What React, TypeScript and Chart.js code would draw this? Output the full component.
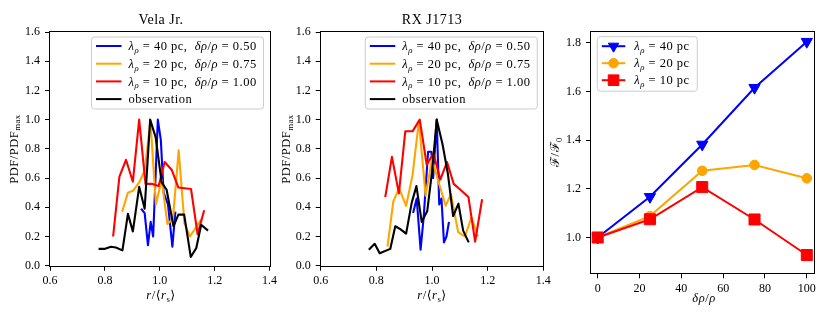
import React, { useEffect, useRef } from "react";
import { Chart, registerables } from "chart.js";

Chart.register(...registerables);

// ---------------- data ----------------
// Vela Jr. panel
const velaBlueX = [0.932, 0.945, 0.957, 0.967, 0.976, 0.993, 1.004, 1.014, 1.03, 1.046, 1.057];
const velaBlueY = [0.39, 0.36, 0.14, 0.3, 0.2, 1.0, 0.86, 0.5, 0.42, 0.13, 0.37];
const velaOrangeX = [0.863, 0.884, 0.904, 0.925, 0.945, 0.966, 0.986, 1.007, 1.028, 1.048, 1.069, 1.09, 1.11, 1.131, 1.152];
const velaOrangeY = [0.37, 0.5, 0.515, 0.57, 0.65, 0.99, 0.42, 0.59, 0.285, 0.32, 0.79, 0.29, 0.2, 0.26, 0.32];
const velaRedX = [0.83, 0.853, 0.877, 0.902, 0.925, 0.948, 0.973, 0.996, 1.018, 1.044, 1.068, 1.09, 1.114, 1.138, 1.162];
const velaRedY = [0.2, 0.61, 0.725, 0.575, 1.0, 0.56, 0.56, 0.545, 0.71, 0.655, 0.535, 0.53, 0.525, 0.215, 0.38];
const velaObsX = [0.777, 0.798, 0.822, 0.84, 0.864, 0.884, 0.902, 0.925, 0.945, 0.965, 0.985, 1.007, 1.025, 1.05, 1.068, 1.089, 1.113, 1.133, 1.151, 1.176];
const velaObsY = [0.115, 0.115, 0.13, 0.125, 0.105, 0.355, 0.235, 0.54, 0.39, 1.0, 0.88, 0.57, 0.52, 0.27, 0.35, 0.35, 0.06, 0.12, 0.28, 0.24];

// RX J1713 panel
const rxBlueX = [0.932, 0.945, 0.959, 0.97, 0.986, 0.998, 1.004, 1.017, 1.026, 1.034, 1.043, 1.052, 1.061];
const rxBlueY = [0.36, 0.46, 0.11, 0.33, 0.78, 0.78, 0.6, 1.0, 0.42, 0.46, 0.16, 0.2, 0.3];
const rxOrangeX = [0.84, 0.861, 0.882, 0.907, 0.93, 0.953, 0.977, 1.0, 1.024, 1.049, 1.068, 1.094, 1.118, 1.142, 1.165];
const rxOrangeY = [0.13, 0.44, 0.53, 0.41, 0.62, 0.99, 0.48, 0.73, 0.57, 0.41, 0.49, 0.23, 0.2, 0.33, 0.2];
const rxRedX = [0.832, 0.856, 0.881, 0.904, 0.93, 0.956, 0.981, 1.005, 1.03, 1.054, 1.078, 1.105, 1.131, 1.155, 1.18];
const rxRedY = [0.47, 0.745, 0.495, 0.92, 0.92, 1.0, 0.69, 0.77, 0.59, 0.71, 0.56, 0.515, 0.47, 0.165, 0.455];
const rxObsX = [0.773, 0.794, 0.812, 0.85, 0.868, 0.886, 0.907, 0.927, 0.944, 0.963, 0.983, 1.0, 1.017, 1.038, 1.057, 1.076, 1.095, 1.112, 1.132];
const rxObsY = [0.11, 0.15, 0.085, 0.115, 0.27, 0.25, 0.22, 0.43, 0.545, 0.3, 0.375, 0.64, 1.0, 0.83, 0.63, 0.34, 0.425, 0.24, 0.16];

// Ratio panel
const ratioX = [0, 25, 50, 75, 100];
const lam40 = [1.0, 1.167, 1.382, 1.615, 1.804];
const lam20 = [1.0, 1.088, 1.274, 1.298, 1.243];
const lam10 = [1.0, 1.075, 1.207, 1.074, 0.928];

// tick labels
const pdfXTicks = [0.6, 0.8, 1.0, 1.2, 1.4];
const pdfYTicks = [0.0, 0.2, 0.4, 0.6, 0.8, 1.0, 1.2, 1.4, 1.6];
const ratioXTicks = [0, 20, 40, 60, 80, 100];
const ratioYTicks = [1.0, 1.2, 1.4, 1.6, 1.8];

// ---------------- styling helpers ----------------
const BLUE = "#0000ff";
const ORANGE = "#ffa500";
const RED = "#ff0000";
const BLACK = "#000000";
const FONT = '"Liberation Serif", "DejaVu Serif", serif';
const SPACING = 0.5;

type Seg = { t: string; it?: boolean; sub?: boolean };

function fontOf(size: number, seg: Seg) {
  const s = seg.sub ? size * 0.7 : size;
  return `${seg.it ? "italic " : ""}${s}px ${FONT}`;
}

function setSpacing(ctx: CanvasRenderingContext2D, px: number) {
  const c: any = ctx;
  if ("letterSpacing" in c) c.letterSpacing = `${px}px`;
}

function richWidth(ctx: CanvasRenderingContext2D, segs: Seg[], size: number) {
  let w = 0;
  for (const s of segs) {
    ctx.font = fontOf(size, s);
    w += ctx.measureText(s.t).width;
  }
  return w;
}

// y is the vertical centre of the text line
function drawRich(
  ctx: CanvasRenderingContext2D,
  segs: Seg[],
  x: number,
  y: number,
  size: number,
  align: "left" | "center",
  rotate = false
) {
  ctx.save();
  setSpacing(ctx, SPACING);
  ctx.fillStyle = "#000";
  ctx.textBaseline = "alphabetic";
  ctx.textAlign = "left";
  if (rotate) {
    ctx.translate(x, y);
    ctx.rotate(-Math.PI / 2);
    x = 0;
    y = 0;
  }
  const w = richWidth(ctx, segs, size);
  let cx = align === "center" ? x - w / 2 : x;
  const base = y + size * 0.33;
  for (const s of segs) {
    ctx.font = fontOf(size, s);
    ctx.fillText(s.t, cx, s.sub ? base + size * 0.22 : base);
    cx += ctx.measureText(s.t).width;
  }
  ctx.restore();
}

type Marker = { style: "circle" | "rect" | "triDown"; r: number };

function drawMarker(ctx: CanvasRenderingContext2D, m: Marker, x: number, y: number, color: string) {
  ctx.save();
  ctx.fillStyle = color;
  ctx.strokeStyle = color;
  ctx.lineWidth = 1;
  ctx.beginPath();
  if (m.style === "circle") {
    ctx.arc(x, y, m.r, 0, Math.PI * 2);
  } else if (m.style === "rect") {
    const s = m.r * Math.SQRT1_2;
    ctx.rect(x - s, y - s, 2 * s, 2 * s);
  } else {
    const r = m.r;
    ctx.moveTo(x, y + r);
    ctx.lineTo(x - r * Math.sin(Math.PI / 3), y - r / 2);
    ctx.lineTo(x + r * Math.sin(Math.PI / 3), y - r / 2);
    ctx.closePath();
  }
  ctx.fill();
  ctx.stroke();
  ctx.restore();
}

type LegendItem = { label: Seg[]; color: string; marker?: Marker };
type LegendSpec = {
  items: LegendItem[];
  anchor: "left" | "right";
  offX: number;
  offY: number;
  w: number;
  h: number;
  firstY: number;
  gap: number;
  lineX0: number;
  lineX1: number;
  textX: number;
  size: number;
};

type PanelSpec = {
  key: string;
  left: number;
  width: number;
  height: number;
  area: { left: number; top: number; right: number; bottom: number };
  xMin: number;
  xMax: number;
  yMin: number;
  yMax: number;
  xTicks: number[];
  yTicks: number[];
  fmtX: (v: number) => string;
  fmtY: (v: number) => string;
  datasets: any[];
  title?: { text: string; x: number; y: number };
  xLabel: { segs: Seg[]; x: number; y: number };
  yLabel: { segs: Seg[]; x: number; y: number };
  legend: LegendSpec;
};

function roundRectPath(ctx: CanvasRenderingContext2D, x: number, y: number, w: number, h: number, r: number) {
  ctx.beginPath();
  ctx.moveTo(x + r, y);
  ctx.lineTo(x + w - r, y);
  ctx.quadraticCurveTo(x + w, y, x + w, y + r);
  ctx.lineTo(x + w, y + h - r);
  ctx.quadraticCurveTo(x + w, y + h, x + w - r, y + h);
  ctx.lineTo(x + r, y + h);
  ctx.quadraticCurveTo(x, y + h, x, y + h - r);
  ctx.lineTo(x, y + r);
  ctx.quadraticCurveTo(x, y, x + r, y);
  ctx.closePath();
}

const framePlugin = {
  id: "frame",
  afterDatasetsDraw(chart: any) {
    const { left, top, right, bottom } = chart.chartArea;
    const ctx = chart.ctx as CanvasRenderingContext2D;
    ctx.save();
    ctx.strokeStyle = "#000";
    ctx.lineWidth = 1;
    const l = Math.round(left) - 0.5;
    const t = Math.round(top) - 0.5;
    const r = Math.round(right) + 0.5;
    const b = Math.round(bottom) + 0.5;
    ctx.strokeRect(l, t, r - l, b - t);
    ctx.restore();
  },
};

function makeTextPlugin(spec: PanelSpec) {
  return {
    id: "texts_" + spec.key,
    afterDraw(chart: any) {
      const ctx = chart.ctx as CanvasRenderingContext2D;
      const a = chart.chartArea;
      if (spec.title) drawRich(ctx, [{ t: spec.title.text }], spec.title.x, spec.title.y, 14, "center");
      drawRich(ctx, spec.xLabel.segs, spec.xLabel.x, spec.xLabel.y, 12.5, "center");
      drawRich(ctx, spec.yLabel.segs, spec.yLabel.x, spec.yLabel.y, 12.5, "center", true);

      const lg = spec.legend;
      const x0 = lg.anchor === "right" ? a.right - lg.offX - lg.w : a.left + lg.offX;
      const y0 = a.top + lg.offY;
      ctx.save();
      roundRectPath(ctx, x0, y0, lg.w, lg.h, 3);
      ctx.globalAlpha = 0.8;
      ctx.fillStyle = "#ffffff";
      ctx.fill();
      ctx.globalAlpha = 1;
      ctx.strokeStyle = "#cccccc";
      ctx.lineWidth = 1;
      ctx.stroke();
      ctx.restore();
      lg.items.forEach((it, i) => {
        const y = y0 + lg.firstY + i * lg.gap;
        ctx.save();
        ctx.strokeStyle = it.color;
        ctx.lineWidth = 2;
        ctx.beginPath();
        ctx.moveTo(x0 + lg.lineX0, y);
        ctx.lineTo(x0 + lg.lineX1, y);
        ctx.stroke();
        ctx.restore();
        if (it.marker) drawMarker(ctx, it.marker, x0 + (lg.lineX0 + lg.lineX1) / 2, y, it.color);
        drawRich(ctx, it.label, x0 + lg.textX, y, lg.size, "left");
      });
    },
  };
}

function lineSet(xs: number[], ys: number[], color: string, order: number) {
  return {
    data: xs.map((x, i) => ({ x, y: ys[i] })),
    borderColor: color,
    backgroundColor: color,
    borderWidth: 2.1,
    pointRadius: 0,
    tension: 0,
    fill: false,
    order,
    borderJoinStyle: "round",
  };
}

function markerSet(xs: number[], ys: number[], color: string, order: number, style: string, r: number, rot: number) {
  return {
    data: xs.map((x, i) => ({ x, y: ys[i] })),
    borderColor: color,
    backgroundColor: color,
    borderWidth: 2,
    pointStyle: style,
    pointRadius: r,
    pointRotation: rot,
    pointBorderWidth: 1,
    pointBackgroundColor: color,
    pointBorderColor: color,
    tension: 0,
    fill: false,
    order,
  };
}

const lamLabel = (lam: string, d: string): Seg[] => [
  { t: "λ", it: true },
  { t: "ρ", it: true, sub: true },
  { t: ` = ${lam} pc,  ` },
  { t: "δρ", it: true },
  { t: "/" },
  { t: "ρ", it: true },
  { t: ` = ${d}` },
];

const pdfLegendItems: LegendItem[] = [
  { label: lamLabel("40", "0.50"), color: BLUE },
  { label: lamLabel("20", "0.75"), color: ORANGE },
  { label: lamLabel("10", "1.00"), color: RED },
  { label: [{ t: "observation" }], color: BLACK },
];

const pdfLegend: LegendSpec = {
  items: pdfLegendItems,
  anchor: "right",
  offX: 6,
  offY: 5,
  w: 172,
  h: 72,
  firstY: 9,
  gap: 17.7,
  lineX0: 4.5,
  lineX1: 30,
  textX: 37,
  size: 12.5,
};

const ratioLegend: LegendSpec = {
  items: [
    { label: [{ t: "λ", it: true }, { t: "ρ", it: true, sub: true }, { t: " = 40 pc" }], color: BLUE, marker: { style: "triDown", r: 6 } },
    { label: [{ t: "λ", it: true }, { t: "ρ", it: true, sub: true }, { t: " = 20 pc" }], color: ORANGE, marker: { style: "circle", r: 4.8 } },
    { label: [{ t: "λ", it: true }, { t: "ρ", it: true, sub: true }, { t: " = 10 pc" }], color: RED, marker: { style: "rect", r: 7.5 } },
  ],
  anchor: "left",
  offX: 6.3,
  offY: 5,
  w: 100,
  h: 54.5,
  firstY: 9.5,
  gap: 17,
  lineX0: 4.5,
  lineX1: 28,
  textX: 37,
  size: 12.5,
};

const xLabelPdf: Seg[] = [{ t: "r", it: true }, { t: "/⟨" }, { t: "r", it: true }, { t: "s", sub: true }, { t: "⟩" }];
const yLabelPdf: Seg[] = [{ t: "PDF/PDF" }, { t: "max", sub: true }];

const fmt1 = (v: number) => Number(v).toFixed(1);
const fmt0 = (v: number) => String(Math.round(Number(v)));

const specs: PanelSpec[] = [
  {
    key: "vela",
    left: 0,
    width: 280,
    height: 312,
    area: { left: 50, top: 32, right: 272.3, bottom: 265.7 },
    xMin: 0.6,
    xMax: 1.4,
    yMin: 0,
    yMax: 1.6,
    xTicks: pdfXTicks,
    yTicks: pdfYTicks,
    fmtX: fmt1,
    fmtY: fmt1,
    datasets: [
      lineSet(velaBlueX, velaBlueY, BLUE, 4),
      lineSet(velaOrangeX, velaOrangeY, ORANGE, 3),
      lineSet(velaRedX, velaRedY, RED, 2),
      lineSet(velaObsX, velaObsY, BLACK, 1),
    ],
    title: { text: "Vela Jr.", x: 161, y: 19.5 },
    xLabel: { segs: xLabelPdf, x: 161, y: 295 },
    yLabel: { segs: yLabelPdf, x: 13.5, y: 149 },
    legend: pdfLegend,
  },
  {
    key: "rx",
    left: 280,
    width: 280,
    height: 312,
    area: { left: 40.7, top: 32, right: 263.3, bottom: 265.7 },
    xMin: 0.6,
    xMax: 1.4,
    yMin: 0,
    yMax: 1.6,
    xTicks: pdfXTicks,
    yTicks: pdfYTicks,
    fmtX: fmt1,
    fmtY: fmt1,
    datasets: [
      lineSet(rxBlueX, rxBlueY, BLUE, 4),
      lineSet(rxOrangeX, rxOrangeY, ORANGE, 3),
      lineSet(rxRedX, rxRedY, RED, 2),
      lineSet(rxObsX, rxObsY, BLACK, 1),
    ],
    title: { text: "RX J1713", x: 152, y: 19 },
    xLabel: { segs: xLabelPdf, x: 152, y: 295 },
    yLabel: { segs: yLabelPdf, x: 6, y: 149 },
    legend: pdfLegend,
  },
  {
    key: "ratio",
    left: 540,
    width: 290,
    height: 312,
    area: { left: 51, top: 31.7, right: 273.7, bottom: 273.3 },
    xMin: -3.2,
    xMax: 103.3,
    yMin: 0.853,
    yMax: 1.845,
    xTicks: ratioXTicks,
    yTicks: ratioYTicks,
    fmtX: fmt0,
    fmtY: fmt1,
    datasets: [
      markerSet(ratioX, lam40, BLUE, 3, "triangle", 6.5, 180),
      markerSet(ratioX, lam20, ORANGE, 2, "circle", 4.8, 0),
      markerSet(ratioX, lam10, RED, 1, "rect", 7.8, 0),
    ],
    xLabel: { segs: [{ t: "δρ", it: true }, { t: "/" }, { t: "ρ", it: true }], x: 164, y: 297.5 },
    yLabel: { segs: [{ t: "ℱ" }, { t: "/" }, { t: "ℱ" }, { t: "0", sub: true }], x: 15, y: 152 },
    legend: ratioLegend,
  },
];

function Panel({ spec }: { spec: PanelSpec }) {
  const ref = useRef<HTMLCanvasElement>(null);
  useEffect(() => {
    const c = ref.current;
    if (!c) return;
    const a = spec.area;
    const tickFont = { family: FONT, size: 12 };
    const grid = {
      display: true,
      drawOnChartArea: false,
      drawTicks: true,
      tickLength: 5,
      color: "#000",
      lineWidth: 1,
    };
    const chart = new Chart(c, {
      type: "line",
      data: { datasets: spec.datasets },
      options: {
        responsive: false,
        animation: false,
        devicePixelRatio: 1,
        layout: { padding: { left: 0, top: a.top, right: spec.width - a.right, bottom: 0 } },
        plugins: {
          legend: { display: false },
          tooltip: { enabled: false },
          title: { display: false },
        },
        scales: {
          x: {
            type: "linear",
            min: spec.xMin,
            max: spec.xMax,
            afterFit: (s: any) => {
              s.height = spec.height - a.bottom;
            },
            afterBuildTicks: (s: any) => {
              s.ticks = spec.xTicks.map((v) => ({ value: v }));
            },
            ticks: {
              callback: (v: any) => spec.fmtX(v),
              color: "#000",
              font: tickFont,
              padding: 3,
              maxRotation: 0,
              autoSkip: false,
            },
            grid,
            border: { display: false },
          },
          y: {
            type: "linear",
            min: spec.yMin,
            max: spec.yMax,
            afterFit: (s: any) => {
              s.width = a.left;
            },
            afterBuildTicks: (s: any) => {
              s.ticks = spec.yTicks.map((v) => ({ value: v }));
            },
            ticks: {
              callback: (v: any) => spec.fmtY(v),
              color: "#000",
              font: tickFont,
              padding: 5,
              autoSkip: false,
            },
            grid,
            border: { display: false },
          },
        },
      } as any,
      plugins: [framePlugin, makeTextPlugin(spec)],
    });
    return () => chart.destroy();
  }, []);
  return (
    <canvas
      ref={ref}
      width={spec.width}
      height={spec.height}
      style={{ position: "absolute", left: spec.left, top: 0, width: spec.width, height: spec.height }}
    />
  );
}

export default function App() {
  return (
    <div
      style={{
        position: "absolute",
        left: 0,
        top: 0,
        width: 830,
        height: 312,
        background: "#ffffff",
        overflow: "hidden",
      }}
    >
      {specs.map((s) => (
        <Panel key={s.key} spec={s} />
      ))}
    </div>
  );
}
